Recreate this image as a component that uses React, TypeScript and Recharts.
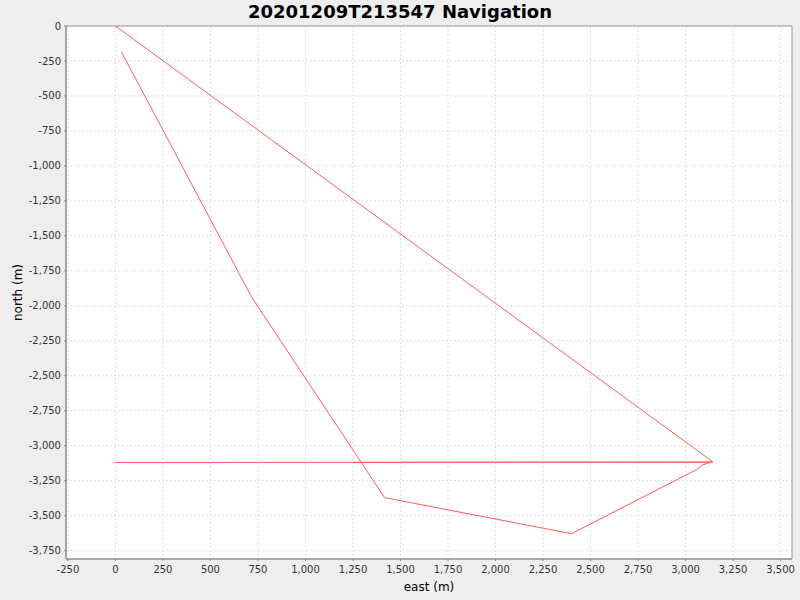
import { LineChart, Line, XAxis, YAxis, CartesianGrid, ReferenceArea } from 'recharts';

// track segments (east, north) in metres
const outbound = [
  { x: 0, y: 0 },
  { x: 3142, y: -3114 },
];
const survey = [
  { x: 32, y: -186 },
  { x: 716, y: -1936 },
  { x: 1416, y: -3371 },
  { x: 2400, y: -3629 },
  { x: 3058, y: -3171 },
  { x: 3089, y: -3138 },
  { x: 3142, y: -3114 },
];
const returnLeg = [
  { x: 3142, y: -3117 },
  { x: 0, y: -3120 },
];
const returnLeg2 = [
  { x: 3142, y: -3118 },
  { x: 1250, y: -3119 },
];

const xTicks = [-250, 0, 250, 500, 750, 1000, 1250, 1500, 1750, 2000, 2250, 2500, 2750, 3000, 3250, 3500];
const yTicks = [0, -250, -500, -750, -1000, -1250, -1500, -1750, -2000, -2250, -2500, -2750, -3000, -3250, -3500, -3750];

const xDomain = [-260, 3560];
const yDomain = [-3810, 0];

const fmt = (v: number) => v.toLocaleString('en-US');
const lineColor = '#ff5c5c';
const tickStyle = { fill: '#333', fontSize: 10, fontFamily: 'DejaVu Sans' };

export default function App() {
  return (
    <div style={{ position: 'absolute', left: 0, top: 0, width: 800, height: 600, background: '#eeeeee', fontFamily: 'DejaVu Sans' }}>
      <div style={{ position: 'absolute', top: 0, left: 0, width: 800, textAlign: 'center', fontSize: 18, fontWeight: 'bold', lineHeight: '24px', color: '#000' }}>
        20201209T213547 Navigation
      </div>
      <LineChart width={800} height={600} margin={{ top: 26, right: 8, bottom: 0, left: 20 }}>
        <CartesianGrid
          fill="#ffffff"
          stroke="#dedede"
          strokeDasharray="2 2"
          horizontalValues={yTicks}
          verticalValues={xTicks}
        />
        <XAxis
          type="number"
          dataKey="x"
          domain={xDomain}
          allowDataOverflow
          ticks={xTicks}
          interval={0}
          tickFormatter={fmt}
          tick={tickStyle}
          tickSize={2}
          tickMargin={5}
          height={41}
          stroke="#888"
          label={{ value: 'east (m)', position: 'insideBottom', offset: 9, fill: '#000', fontSize: 12 }}
        />
        <YAxis
          type="number"
          dataKey="y"
          domain={yDomain}
          allowDataOverflow
          ticks={yTicks}
          interval={0}
          tickFormatter={fmt}
          tick={tickStyle}
          tickSize={2}
          tickMargin={3}
          width={46}
          stroke="#888"
          label={{ value: 'north (m)', angle: -90, position: 'left', offset: 2, fill: '#000', fontSize: 12, style: { textAnchor: 'middle' } }}
        />
        <ReferenceArea x1={xDomain[0]} x2={xDomain[1]} y1={yDomain[0]} y2={yDomain[1]} fill="none" stroke="#999" strokeWidth={1} />
        <Line data={outbound} dataKey="y" stroke={lineColor} strokeWidth={1} dot={false} isAnimationActive={false} />
        <Line data={survey} dataKey="y" stroke={lineColor} strokeWidth={1} dot={false} isAnimationActive={false} />
        <Line data={returnLeg} dataKey="y" stroke={lineColor} strokeWidth={1} dot={false} isAnimationActive={false} />
        <Line data={returnLeg2} dataKey="y" stroke={lineColor} strokeWidth={1} dot={false} isAnimationActive={false} />
      </LineChart>
    </div>
  );
}
